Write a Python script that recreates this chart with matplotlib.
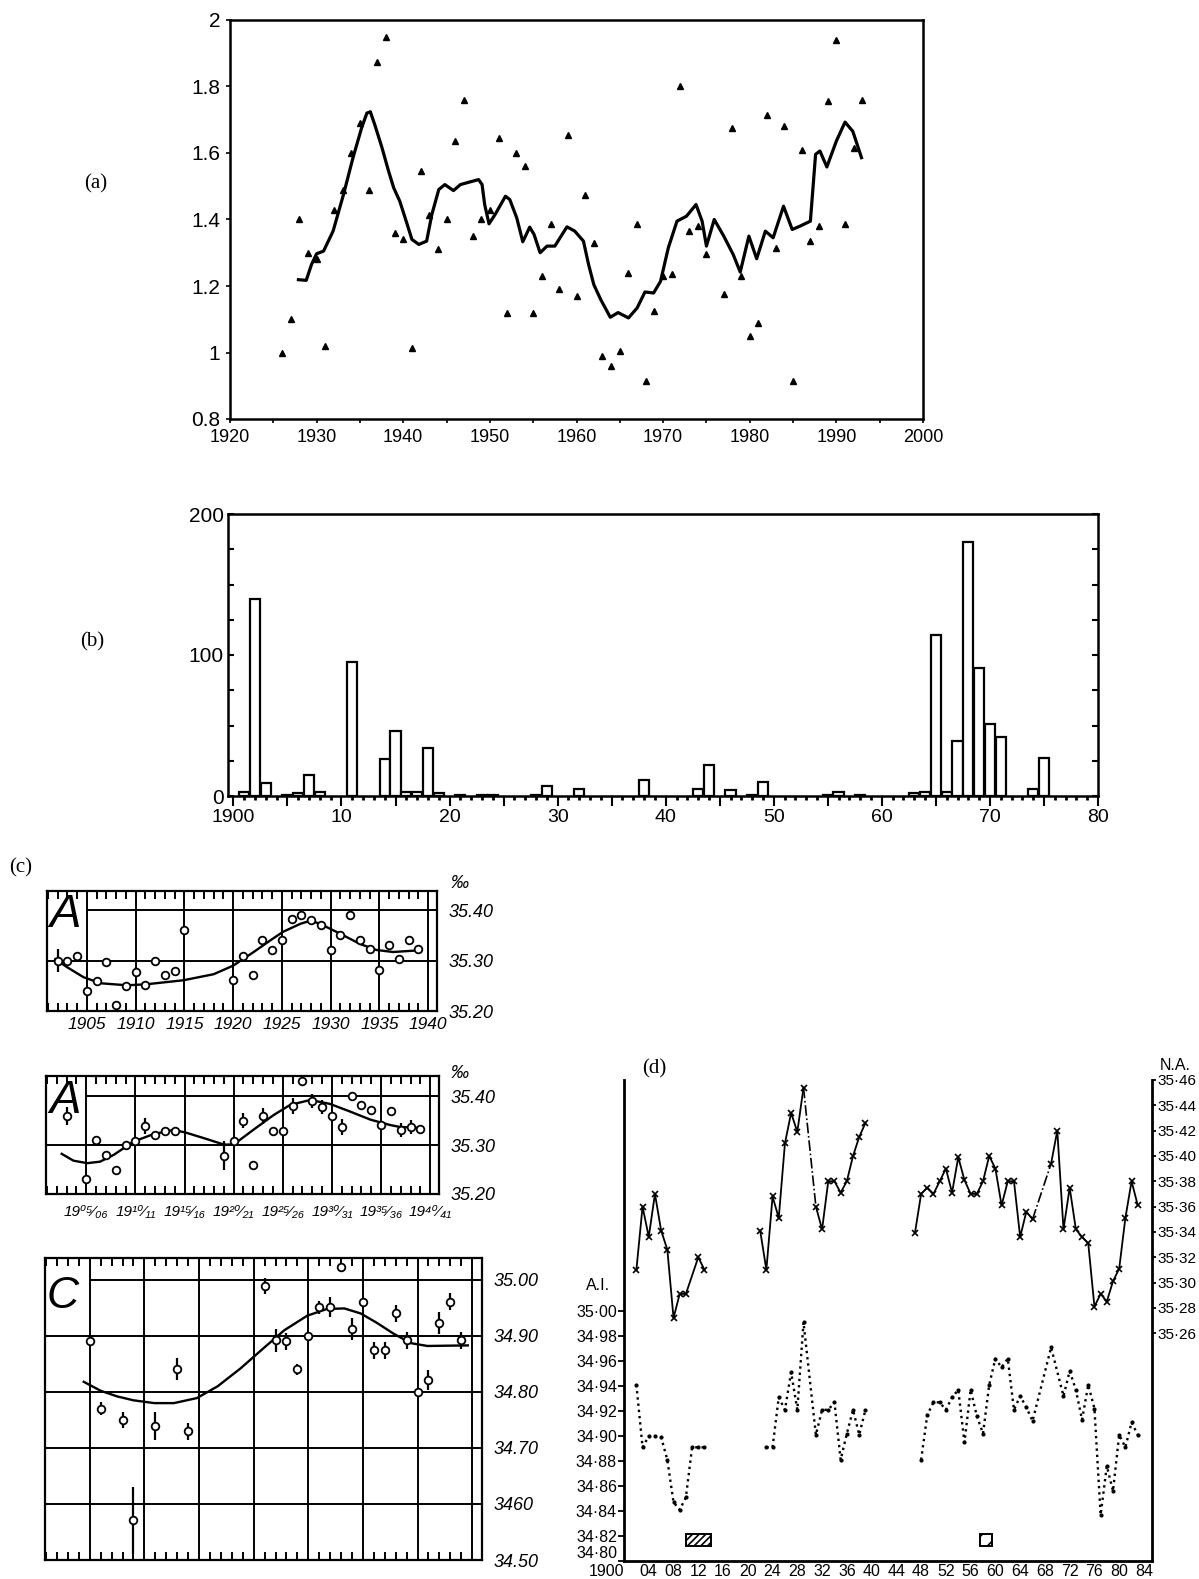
import matplotlib.pyplot as plt
from matplotlib.ticker import MultipleLocator
from matplotlib.patches import Rectangle

plt.rcParams['font.family'] = ['Liberation Sans', 'DejaVu Sans']
plt.rcParams['hatch.linewidth'] = 1.2

# ---------------- (a) index with running mean ----------------
tri_years = list(range(1926, 1976)) + list(range(1977, 1994))
tri_vals = [1.00, 1.10, 1.40, 1.30, 1.28, 1.02, 1.43, 1.49, 1.60, 1.69,
            1.49, 1.875, 1.95, 1.36, 1.34, 1.015, 1.545, 1.415, 1.31, 1.40,
            1.635, 1.76, 1.35, 1.40, 1.43, 1.645, 1.12, 1.60, 1.56, 1.12,
            1.23, 1.385, 1.19, 1.655, 1.17, 1.475, 1.33, 0.99, 0.96, 1.005,
            1.24, 1.385, 0.915, 1.125, 1.23, 1.235, 1.80, 1.365, 1.38, 1.295,
            1.175, 1.675, 1.23, 1.05, 1.09, 1.715, 1.315, 1.68, 0.915, 1.61,
            1.335, 1.38, 1.755, 1.94, 1.385, 1.615, 1.76]
smooth_years = [1927.9, 1928.8, 1929.4, 1930.0, 1930.8, 1931.9, 1933.1, 1934.2, 1935.2, 1935.8,
                1936.2, 1936.7, 1937.5, 1938.3, 1938.9, 1939.6, 1940.4, 1941.0, 1941.8, 1942.7,
                1943.3, 1944.1, 1944.8, 1945.8, 1946.6, 1947.7, 1948.7, 1949.1, 1949.4, 1949.9,
                1950.6, 1951.8, 1952.3, 1953.1, 1953.8, 1954.6, 1955.1, 1955.8, 1956.6, 1957.5,
                1958.1, 1958.9, 1959.8, 1960.8, 1961.4, 1962.0, 1962.8, 1963.9, 1964.8, 1966.0,
                1967.0, 1967.9, 1968.9, 1969.7, 1970.6, 1971.6, 1972.7, 1973.8, 1974.5, 1975.0,
                1975.9, 1977.0, 1978.1, 1978.9, 1979.9, 1980.8, 1981.8, 1982.7, 1983.9, 1984.9,
                1985.8, 1987.0, 1987.6, 1988.1, 1988.9, 1990.0, 1991.0, 1991.9, 1992.9]
smooth_vals = [1.219, 1.217, 1.264, 1.297, 1.305, 1.365, 1.475, 1.586, 1.676, 1.72,
               1.724, 1.686, 1.62, 1.546, 1.495, 1.455, 1.39, 1.34, 1.325, 1.335,
               1.415, 1.49, 1.505, 1.487, 1.505, 1.513, 1.52, 1.505, 1.445, 1.387,
               1.415, 1.47, 1.46, 1.405, 1.333, 1.377, 1.355, 1.30, 1.32, 1.32,
               1.345, 1.378, 1.365, 1.335, 1.264, 1.204, 1.159, 1.106, 1.12, 1.104,
               1.134, 1.182, 1.179, 1.214, 1.315, 1.395, 1.41, 1.445, 1.395, 1.32,
               1.40, 1.35, 1.294, 1.242, 1.35, 1.282, 1.365, 1.345, 1.44, 1.37,
               1.38, 1.395, 1.596, 1.606, 1.558, 1.636, 1.693, 1.665, 1.586]
a_yticks = [0.8, 1.0, 1.2, 1.4, 1.6, 1.8, 2.0]
a_ylabels = ['0.8', '1', '1.2', '1.4', '1.6', '1.8', '2']

# ---------------- (b) yearly counts ----------------
bar_years = [1901, 1902, 1903, 1905, 1906, 1907, 1908, 1911, 1914, 1915, 1916, 1917, 1918,
             1919, 1921, 1923, 1924, 1928, 1929, 1932, 1938, 1943, 1944, 1946, 1948, 1949,
             1955, 1956, 1958, 1963, 1964, 1965, 1966, 1967, 1968, 1969, 1970, 1971, 1974, 1975]
bar_counts = [3, 140, 9, 1, 2, 15, 3, 95, 26, 46, 3, 3, 34,
              2, 1, 0.5, 0.5, 0.5, 7, 5, 11, 5, 22, 4, 1, 10,
              1, 3, 1, 2, 3, 114, 3, 39, 180, 91, 51, 42, 5, 27]
b_xlabels = ['1900', '10', '20', '30', '40', '50', '60', '70', '80']

# ---------------- (c) salinity series A, A, C ----------------
c1_years = list(range(1902, 1916)) + list(range(1920, 1940))
c1_vals = [35.30, 35.30, 35.31, 35.24, 35.26, 35.298, 35.211, 35.25, 35.277, 35.251,
           35.30, 35.272, 35.28, 35.36, 35.261, 35.31, 35.271, 35.34, 35.32, 35.34,
           35.383, 35.39, 35.381, 35.371, 35.32, 35.35, 35.39, 35.341, 35.322, 35.281,
           35.331, 35.303, 35.341, 35.322]
c1_errs = [0.022, 0, 0.006, 0, 0, 0, 0, 0, 0.01, 0,
           0, 0, 0, 0, 0, 0, 0, 0.007, 0.007, 0,
           0, 0, 0, 0, 0, 0, 0, 0, 0, 0,
           0, 0, 0, 0]
c1_fit_years = [1901.75, 1902.95, 1904.65, 1906.4, 1909.1, 1911.1, 1914.9, 1918.0, 1920.0, 1922.1,
                1923.8, 1925.1, 1926.9, 1927.9, 1928.9, 1931.0, 1933.0, 1934.7, 1936.4, 1938.8]
c1_fit_vals = [35.303, 35.287, 35.267, 35.255, 35.251, 35.253, 35.261, 35.273, 35.29, 35.317,
               35.34, 35.357, 35.373, 35.379, 35.373, 35.353, 35.333, 35.321, 35.317, 35.32]
c1_xlabels = ['1905', '1910', '1915', '1920', '1925', '1930', '1935', '1940']

c2_years = [1903, 1905, 1906, 1907, 1908, 1909, 1910, 1911, 1912, 1913, 1914] + list(range(1919, 1940))
c2_vals = [35.359, 35.230, 35.310, 35.280, 35.249, 35.300, 35.309, 35.339, 35.320, 35.329,
           35.329, 35.278, 35.309, 35.35, 35.259, 35.359, 35.329, 35.329, 35.38, 35.431,
           35.39, 35.378, 35.359, 35.337, 35.40, 35.382, 35.371, 35.341, 35.369, 35.331,
           35.337, 35.332]
c2_errs = [0.018, 0, 0, 0, 0, 0, 0, 0.016, 0, 0,
           0, 0.03, 0, 0.016, 0, 0.016, 0, 0, 0.016, 0,
           0.014, 0.014, 0, 0.016, 0, 0, 0, 0, 0, 0.014,
           0.014, 0]
c2_fit_years = [1902.5, 1903.7, 1905.1, 1906.4, 1907.8, 1909.8, 1911.8, 1913.9, 1915.2, 1917.3,
                1919.0, 1920.0, 1922.0, 1924.05, 1925.75, 1927.8, 1929.8, 1931.9, 1933.9, 1935.9,
                1936.9, 1939.0]
c2_fit_vals = [35.282, 35.268, 35.263, 35.266, 35.280, 35.307, 35.322, 35.331, 35.325, 35.312,
               35.301, 35.301, 35.331, 35.361, 35.382, 35.392, 35.384, 35.368, 35.352, 35.341,
               35.337, 35.335]
c2_xlabels = ['19⁰⁵⁄₀₆', '19¹⁰⁄₁₁', '19¹⁵⁄₁₆', '19²⁰⁄₂₁',
              '19²⁵⁄₂₆', '19³⁰⁄₃₁', '19³⁵⁄₃₆', '19⁴⁰⁄₄₁']

c3_years = [1905, 1906, 1908, 1909, 1911, 1913, 1914] + list(range(1921, 1940))
c3_vals = [34.890, 34.770, 34.750, 34.571, 34.740, 34.841, 34.730, 34.989, 34.892, 34.890,
           34.840, 34.900, 34.951, 34.951, 35.023, 34.912, 34.961, 34.874, 34.874, 34.940,
           34.892, 34.800, 34.821, 34.923, 34.961, 34.892]
c3_errs = [0, 0.012, 0.015, 0.06, 0.025, 0.02, 0.015, 0.015, 0.02, 0.015,
           0.01, 0, 0.012, 0.018, 0.006, 0.02, 0, 0.015, 0.015, 0.015,
           0.015, 0, 0.018, 0.02, 0.015, 0.015]
c3_fit_years = [1904.45, 1906.0, 1907.5, 1909.0, 1910.9, 1912.7, 1914.8, 1916.7, 1918.8, 1920.9,
                1922.8, 1924.9, 1926.7, 1928.3, 1929.8, 1931.3, 1932.8, 1934.4, 1935.9, 1939.6]
c3_fit_vals = [34.818, 34.802, 34.792, 34.785, 34.780, 34.780, 34.789, 34.810, 34.842, 34.878,
               34.910, 34.936, 34.948, 34.949, 34.940, 34.923, 34.904, 34.887, 34.882, 34.883]
c3_ylabels = ['34.50', '3460', '34.70', '34.80', '34.90', '35.00']

# ---------------- (d) N.A. (solid) and A.I. (dotted) ----------------
na1_years = [1902, 1903, 1904, 1905, 1906, 1907, 1908, 1909, 1910, 1912, 1913]
na1_vals = [35.310, 35.360, 35.336, 35.370, 35.341, 35.326, 35.272, 35.291, 35.291, 35.320, 35.310]
na2_years = list(range(1922, 1930))
na2_vals = [35.341, 35.310, 35.368, 35.351, 35.41, 35.434, 35.419, 35.454]
na3_years = list(range(1931, 1940))
na3_vals = [35.360, 35.342, 35.38, 35.38, 35.371, 35.38, 35.40, 35.415, 35.426]
na4_years = list(range(1947, 1967))
na4_vals = [35.339, 35.370, 35.375, 35.370, 35.380, 35.39, 35.371, 35.399, 35.381, 35.370,
            35.370, 35.380, 35.40, 35.39, 35.361, 35.38, 35.38, 35.336, 35.356, 35.35]
na5_years = list(range(1969, 1984))
na5_vals = [35.394, 35.42, 35.342, 35.375, 35.342, 35.336, 35.331, 35.281, 35.291, 35.285,
            35.301, 35.311, 35.351, 35.380, 35.361]

ai1_years = list(range(1902, 1914))
ai1_vals = [34.941, 34.891, 34.90, 34.90, 34.899, 34.881, 34.847, 34.841, 34.851, 34.891,
            34.891, 34.891]
ai2_years = list(range(1923, 1930)) + list(range(1931, 1940))
ai2_vals = [34.891, 34.891, 34.931, 34.921, 34.951, 34.921, 34.991, 34.901, 34.921, 34.921,
            34.927, 34.881, 34.902, 34.921, 34.901, 34.921]
ai3_years = list(range(1948, 1967)) + [1969] + list(range(1971, 1984))
ai3_vals = [34.881, 34.917, 34.927, 34.927, 34.921, 34.931, 34.937, 34.895, 34.937, 34.916,
            34.902, 34.941, 34.962, 34.955, 34.962, 34.921, 34.932, 34.923, 34.912, 34.971,
            34.932, 34.952, 34.937, 34.913, 34.941, 34.922, 34.837, 34.876, 34.856, 34.901,
            34.891, 34.911, 34.901]
hatch_start = [1910, 1957.5]
hatch_end = [1914, 1959.5]
hatch_style = ['/////', '//']
d_xticks = list(range(1900, 1985, 4))
d_xlabels = ['1900'] + ['%02d' % (y % 100) for y in range(1904, 1985, 4)]
ai_ticks = [34.80, 34.82, 34.84, 34.86, 34.88, 34.90, 34.92, 34.94, 34.96, 34.98, 35.00]
na_ticks = [35.26, 35.28, 35.30, 35.32, 35.34, 35.36, 35.38, 35.40, 35.42, 35.44, 35.46]

W, H = 1199, 1579
fig = plt.figure(figsize=(W / 100, H / 100), dpi=100)

SERIF = ['Liberation Serif', 'DejaVu Serif']


def box(x0, y0, x1, y1):
    # pixel box (top-left origin) -> figure fraction
    return [x0 / W, 1 - y1 / H, (x1 - x0) / W, (y1 - y0) / H]


# ---- panel (a)
ax = fig.add_axes(box(230, 20, 923, 419))
ax.plot(smooth_years, smooth_vals, color='k', lw=2.3)
ax.plot(tri_years, tri_vals, ls='none', marker='^', ms=5, color='k')
ax.set_xlim(1920, 2000)
ax.set_ylim(0.8, 2.0)
ax.set_xticks(range(1920, 2001, 10))
ax.xaxis.set_minor_locator(MultipleLocator(5))
ax.set_yticks(a_yticks)
ax.set_yticklabels(a_ylabels)
ax.tick_params(which='both', direction='out', length=3, width=1.2, pad=4)
ax.tick_params(axis='y', labelsize=15)
ax.tick_params(axis='x', labelsize=13)
for s in ax.spines.values():
    s.set_linewidth(1.8)
fig.text(96 / W, 1 - 184 / H, '(a)', family=SERIF, fontsize=15, ha='center', va='center')

# ---- panel (b)
ax = fig.add_axes(box(228, 514, 1098, 796))
ax.bar(bar_years, bar_counts, width=0.95, facecolor='white', edgecolor='k', lw=1.6)
ax.set_xlim(1899.5, 1980)
ax.set_ylim(0, 200)
ax.set_xticks(range(1900, 1981, 5))
ax.set_xticklabels([b_xlabels[i // 2] if i % 2 == 0 else '' for i in range(17)], fontsize=14)
ax.xaxis.set_minor_locator(MultipleLocator(1))
ax.tick_params(axis='x', which='major', direction='out', length=7, width=1.5, pad=2)
ax.tick_params(axis='x', which='minor', direction='out', length=3, width=2)
ax.set_yticks([0, 100, 200])
ax.yaxis.set_minor_locator(MultipleLocator(25))
ax.tick_params(axis='y', which='both', direction='in', left=True, right=True,
               length=4, width=1.5, labelsize=15, pad=3)
for s in ax.spines.values():
    s.set_linewidth(1.8)
fig.text(92 / W, 1 - 642 / H, '(b)', family=SERIF, fontsize=15, ha='center', va='center')
fig.text(21 / W, 1 - 868 / H, '(c)', family=SERIF, fontsize=15, ha='center', va='center')


# ---- panel (c) helper
def salinity_panel(rect, ylo, yhi, full_lines, top_line, years, vals, errs,
                   fit_years, fit_vals, ylabel_vals, ylabels, xlabels, xsize, xpad):
    ax = fig.add_axes(rect)
    ax.set_xlim(1900.9, 1940.9)
    ax.set_ylim(ylo, yhi)
    for x in range(1905, 1941, 5):
        ax.axvline(x, color='k', lw=1.4, zorder=1)
    for y in full_lines:
        ax.axhline(y, color='k', lw=1.4, zorder=1)
    ax.hlines(top_line, 1905, 1940.9, color='k', lw=1.4, zorder=1)
    ax.plot(fit_years, fit_vals, color='k', lw=1.7, zorder=3)
    ax.errorbar(years, vals, yerr=errs, fmt='o', ms=5.5, mfc='white', mec='k', mew=1.3,
                ecolor='k', elinewidth=1.6, capsize=0, zorder=4)
    ax.set_xticks(range(1905, 1941, 5))
    ax.xaxis.set_minor_locator(MultipleLocator(1))
    ax.tick_params(axis='x', which='minor', direction='in', top=True, bottom=True,
                   length=6, width=1.4)
    ax.tick_params(axis='x', which='major', length=0, pad=xpad)
    if xlabels:
        ax.set_xticklabels(xlabels, style='italic', fontsize=xsize)
    else:
        ax.set_xticklabels([])
    ax.yaxis.tick_right()
    ax.set_yticks(ylabel_vals)
    ax.set_yticklabels(ylabels, style='italic', fontsize=13)
    ax.tick_params(axis='y', length=0, pad=8)
    for s in ax.spines.values():
        s.set_linewidth(1.6)
    return ax


salinity_panel(box(47, 891, 437, 1011), 35.20, 35.438, [35.30], 35.40,
               c1_years, c1_vals, c1_errs, c1_fit_years, c1_fit_vals,
               [35.20, 35.30, 35.40], ['35.20', '35.30', '35.40'], c1_xlabels, 12.5, 4)
fig.text(65 / W, 1 - 915 / H, 'A', style='italic', fontsize=34, ha='center', va='center')
fig.text(460 / W, 1 - 884 / H, '‰', style='italic', fontsize=13, ha='center', va='center')

salinity_panel(box(46, 1076, 439, 1194), 35.20, 35.441, [35.30], 35.40,
               c2_years, c2_vals, c2_errs, c2_fit_years, c2_fit_vals,
               [35.20, 35.30, 35.40], ['35.20', '35.30', '35.40'], c2_xlabels, 11, 8)
fig.text(65 / W, 1 - 1101 / H, 'A', style='italic', fontsize=34, ha='center', va='center')
fig.text(460 / W, 1 - 1073 / H, '‰', style='italic', fontsize=13, ha='center', va='center')

salinity_panel(box(45, 1258, 482, 1560), 34.50, 35.039, [34.60, 34.70, 34.80, 34.90], 35.00,
               c3_years, c3_vals, c3_errs, c3_fit_years, c3_fit_vals,
               [34.50, 34.60, 34.70, 34.80, 34.90, 35.00], c3_ylabels, None, 12, 4)
fig.text(63 / W, 1 - 1297 / H, 'C', style='italic', fontsize=32, ha='center', va='center')

# ---- panel (d)
axd = fig.add_axes(box(624, 1080, 1152, 1561))
axd.set_xlim(1900, 1985.3)
axd.set_ylim(34.80, 35.185)
for yrs, vals in [(ai1_years, ai1_vals), (ai2_years, ai2_vals), (ai3_years, ai3_vals)]:
    axd.plot(yrs, vals, color='k', ls=':', lw=1.7, marker='.', ms=4)
for s, e, h in zip(hatch_start, hatch_end, hatch_style):
    axd.add_patch(Rectangle((s, 34.812), e - s, 0.010, facecolor='white',
                            edgecolor='k', hatch=h, lw=1.4))
axd.set_xticks(d_xticks)
axd.set_xticklabels(d_xlabels, fontsize=11.5)
axd.get_xticklabels()[0].set_ha('right')
axd.tick_params(axis='x', length=0, pad=2)
axd.set_yticks(ai_ticks)
axd.set_yticklabels([('%.2f' % v).replace('.', '·') for v in ai_ticks], fontsize=11.5)
axd.get_yticklabels()[0].set_va('bottom')
axd.tick_params(axis='y', direction='out', length=4, width=1.3, pad=1)
axd.spines['top'].set_visible(False)
axd.spines['right'].set_visible(False)
axd.spines['left'].set_linewidth(2)
axd.spines['bottom'].set_linewidth(2)

axn = axd.twinx()
axn.set_ylim(35.080, 35.46)
segments = [(na1_years, na1_vals), (na2_years, na2_vals), (na3_years, na3_vals),
            (na4_years, na4_vals), (na5_years, na5_vals)]
for yrs, vals in segments:
    axn.plot(yrs, vals, color='k', lw=1.3, marker='x', ms=4, mew=1.2)
# dash-dot bridges across the missing years
for (y0, v0), (y1, v1) in [((na2_years, na2_vals), (na3_years, na3_vals)),
                           ((na4_years, na4_vals), (na5_years, na5_vals))]:
    axn.plot([y0[-1], y1[0]], [v0[-1], v1[0]], color='k', lw=1.2, ls='-.')
axn.set_yticks(na_ticks)
axn.set_yticklabels([('%.2f' % v).replace('.', '·') for v in na_ticks], fontsize=11)
axn.tick_params(axis='y', direction='out', length=3, width=1.3, pad=1)
for k in ['top', 'left', 'bottom']:
    axn.spines[k].set_visible(False)
axn.spines['right'].set_linewidth(2)

fig.text(598 / W, 1 - 1286 / H, 'A.I.', fontsize=11.5, ha='center', va='center')
fig.text(1175 / W, 1 - 1065 / H, 'N.A.', fontsize=11.5, ha='center', va='center')
fig.text(654 / W, 1 - 1069 / H, '(d)', family=SERIF, fontsize=15, ha='center', va='center')

fig.savefig('out.png', dpi=100)
